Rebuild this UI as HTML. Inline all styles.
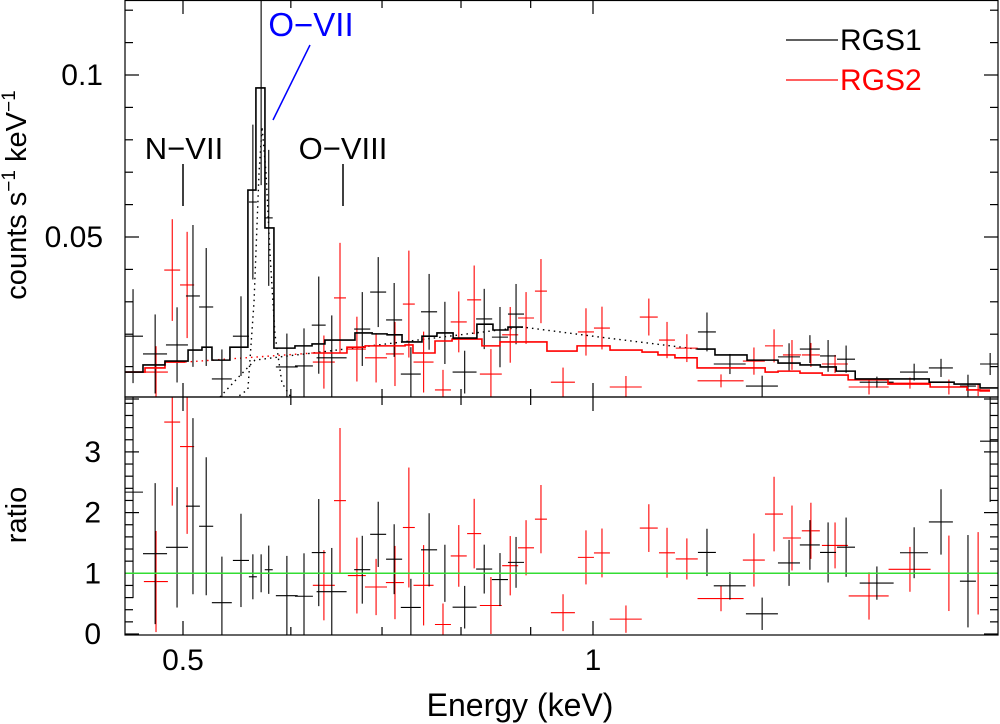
<!DOCTYPE html>
<html><head><meta charset="utf-8">
<style>
html,body{margin:0;padding:0;background:#fff;}
svg{display:block;font-family:"Liberation Sans",sans-serif;}
</style></head>
<body>
<svg id="chart" width="1000" height="724" viewBox="0 0 1000 724" xmlns="http://www.w3.org/2000/svg">
<defs>
<clipPath id="clipTop"><rect x="125" y="0" width="873" height="397"/></clipPath>
<clipPath id="clipBot"><rect x="125" y="397" width="873" height="238"/></clipPath>
</defs>
<g id="axes"></g>
<g id="topMarks" clip-path="url(#clipTop)"></g>
<g id="botMarks" clip-path="url(#clipBot)"></g>
<rect x="125" y="0.5" width="873" height="396.5" fill="none" stroke="#000" stroke-width="1.2"/>
<rect x="125" y="397" width="873" height="238" fill="none" stroke="#000" stroke-width="1.2"/>
<text x="26" y="195" font-size="29" text-anchor="middle" transform="rotate(-90 26 195)">counts s<tspan font-size="19" dy="-11">−1</tspan><tspan dy="11"> keV</tspan><tspan font-size="19" dy="-11">−1</tspan></text>
<text x="26" y="515" font-size="29" text-anchor="middle" transform="rotate(-90 26 515)">ratio</text>
<text x="520" y="716" font-size="32" text-anchor="middle">Energy (keV)</text>
<text x="184" y="159" font-size="31" text-anchor="middle">N−VII</text>
<line x1="183" y1="164" x2="183" y2="206" stroke="#000" stroke-width="1.5"/>
<text x="343" y="159" font-size="31" text-anchor="middle">O−VIII</text>
<line x1="343" y1="164" x2="343" y2="206" stroke="#000" stroke-width="1.5"/>
<text x="311" y="36" font-size="33" fill="#0000ff" text-anchor="middle">O−VII</text>
<line x1="310" y1="45" x2="273" y2="120" stroke="#0000ff" stroke-width="1.5"/>
<g>
<line x1="786" y1="40" x2="838" y2="40" stroke="#000" stroke-width="1.2"/>
<text x="840" y="50" font-size="30">RGS1</text>
<line x1="786" y1="80" x2="838" y2="80" stroke="#f00" stroke-width="1.2"/>
<text x="840" y="90" font-size="30" fill="#f00">RGS2</text>
</g>
</svg>
<script>
// RGS1 data (energy keV, half-width keV, counts 1e-3 s^-1 keV^-1, error)
var r1E=[0.4595,0.477,0.495,0.5085,0.520,0.534,0.5515,0.5627,0.5706,0.578,0.596,0.6135,0.629,0.643,0.677,0.6955,0.7145,0.735,0.758,0.7785,0.805,0.832,0.8545,0.878,1.2125,1.2605,1.331,1.393,1.443,1.488,1.534,1.616,1.721,1.801,1.885,1.957];
var r1W=[0.0078,0.0097,0.0092,0.006,0.0062,0.009,0.0075,0.0038,0.0039,0.0039,0.011,0.0093,0.0074,0.0163,0.0092,0.0094,0.0097,0.0124,0.0103,0.0105,0.0163,0.0113,0.0116,0.0119,0.0184,0.034,0.036,0.0259,0.0244,0.0201,0.0233,0.0464,0.0407,0.0365,0.0255,0.0331];
var r1V=[19.4,13.9,16.7,31.8,28.4,6.2,19.4,60.8,96.0,55.9,9.9,10.2,22.8,12.7,21.6,33.0,24.4,7.7,26.9,20.4,8.3,24.7,19.1,26.2,20.7,10.8,4.0,13.0,15.4,13.3,12.3,5.2,8.3,9.6,4.0,10.8];
var r1Err=[14.5,12.2,11.6,21.9,18.2,9.1,12.3,23.9,30,21,10.3,11.6,15,13.1,11.4,10.8,11.4,8.3,11.7,9.6,6.6,9.3,9.3,9.3,6.0,3.1,3.2,4.2,4.3,4.9,4.2,1.7,2.6,2.8,3.5,3.4];
// RGS2 data
var r2E=[0.4777,0.491,0.5035,0.6345,0.652,0.6709,0.693,0.7155,0.7325,0.751,0.776,0.797,0.818,0.8415,0.8694,0.893,0.9158,0.9506,0.9882,1.0153,1.0573,1.099,1.1333,1.172,1.2416,1.3127,1.3581,1.3999,1.4454,1.5056,1.5946,1.7089,1.8252,1.9176];
var r2W=[0.0097,0.0066,0.006,0.0118,0.0066,0.0102,0.0129,0.0109,0.0074,0.0127,0.0105,0.0108,0.0097,0.0156,0.0118,0.0121,0.0093,0.0193,0.0134,0.0137,0.0286,0.0167,0.0153,0.0218,0.0483,0.0244,0.0207,0.0213,0.022,0.0331,0.0539,0.0607,0.0555,0.0389];
var r2V=[8.3,39.8,35.2,11.4,31.2,15.4,12.7,13.9,29.3,11.4,2.8,23.8,30.6,7.7,19.8,25,33.3,5.2,20.7,21.9,3.7,25.3,18.2,15.7,5.6,11.7,16.4,13.6,13.6,10.8,3.7,4.9,3.7,2.8];
var r2Err=[8,15.7,16.4,8.2,17,10,7.6,9.9,16.5,9.4,6.2,9.4,10.6,7.7,8.6,8,9.9,4.5,7.3,6.6,3.4,5.7,5.6,4.3,2.0,4.2,5.1,4.6,3.7,2.8,2.3,1.7,2.3,1.9];
// RGS1 model histogram (bin edges keV, values)
var m1Edges=[0.4517,0.4673,0.4850,0.5043,0.5163,0.5251,0.5413,0.5580,0.5656,0.5743,0.5831,0.6042,0.6219,0.6356,0.6687,0.6884,0.7060,0.7241,0.7489,0.7681,0.7894,0.8218,0.8444,0.8661,0.8884,1.1924,1.2290,1.2974,1.3673,1.4190,1.4685,1.5086,1.5578,1.6466,1.7653,1.8413,1.9238,1.9836];
var m1Vals=[8.3,10.5,11.7,15.1,16.0,12.0,16.0,64.5,96.0,52.8,15.7,16.4,17.0,18.2,20.4,20.1,19.8,17.6,19.4,20.4,18.8,23.1,21.3,22.2,null,15.4,13.6,12.0,11.1,10.5,9.9,8.6,6.2,6.2,5.2,4.6,3.4];
// RGS2 model histogram
var m2Edges=[0.4517,0.4689,0.4850,0.5018,0.6229,0.6597,0.6803,0.7278,0.7376,0.7656,0.7880,0.8288,0.8545,0.9251,0.9734,1.0292,1.0864,1.1161,1.1486,1.1924,1.3378,1.3673,1.4190,1.4733,1.5393,1.6466,1.7682,1.8823,1.9238,1.9566];
var m2Vals=[8.3,9.6,11.4,null,14.2,16.0,16.4,16.7,14.2,17.9,18.5,16.4,17.6,14.8,16.4,15.1,14.5,13.6,12.7,9.6,8.3,8.6,8.0,7.4,5.9,4.6,3.7,2.8,2.5];
// model components (dotted)
var contE=[0.5322,0.551,0.5647,0.589,0.623,0.888,1.012,1.192];
var contV=[0.6,7.4,12.0,13.0,14.2,22.2,19.1,15.4];
var redContE=[0.5018,0.6229];
var redContV=[11.4,14.2];
var lineE=[0.5459,0.558,0.5638,0.5686,0.5715,0.5753,0.5792,0.5841,0.5910,0.6012];
var lineV=[0,3,30,70,84,70,45,20,5,0];
// axis ticks
var yTicks=[0.05,0.1];
var ratioTicks=[0,1,2,3];
var xLabelTicks=[0.5,1];
var xMinorTicks=[0.5,0.6,0.7,0.8,0.9,1,2];

var NS="http://www.w3.org/2000/svg";
function X(e){return 593+1362*Math.log10(e);}
function Y(v){return 399-3.24*v;}
function R(r){return 634-60.7*r;}
function mk(tag,attrs,parent){var el=document.createElementNS(NS,tag);for(var k in attrs)el.setAttribute(k,attrs[k]);parent.appendChild(el);return el;}
var axes=document.getElementById('axes'),top_=document.getElementById('topMarks'),bot=document.getElementById('botMarks');

xMinorTicks.forEach(function(e){
  var x=X(e),big=(e===0.5||e===1);
  [[0,big?14:8],[397,big?-14:-8],[397,big?14:8],[635,big?-14:-8]].forEach(function(p){
    var t=mk('line',{x1:x,x2:x,y1:p[0],y2:p[0]+p[1],stroke:'#000','stroke-width':1.2},axes);
    
    
  });
});
xLabelTicks.forEach(function(e){
  var t=mk('text',{x:X(e),y:670,'font-size':30,'text-anchor':'middle'},axes);t.textContent=String(e);
  
  
});
for(var v=0;v<=120;v+=10){
  var big=(v%50===0);
  [[125,big?14:8],[998,big?-14:-8]].forEach(function(p){
    var t=mk('line',{x1:p[0],x2:p[0]+p[1],y1:Y(v),y2:Y(v),stroke:'#000','stroke-width':1.2},axes);
    
    
  });
}
yTicks.forEach(function(v){
  var t=mk('text',{x:103,y:Y(v*1000)+10,'font-size':30,'text-anchor':'end'},axes);t.textContent=String(v);
  
  
});
for(var i=0;i<=19;i++){
  var r=i*0.2,big=(i%5===0);
  [[125,big?14:8],[998,big?-14:-8]].forEach(function(p){
    var t=mk('line',{x1:p[0],x2:p[0]+p[1],y1:R(r),y2:R(r),stroke:'#000','stroke-width':1.2},axes);
    
    
  });
}
ratioTicks.forEach(function(r){
  var t=mk('text',{x:101,y:R(r)+10,'font-size':30,'text-anchor':'end'},axes);t.textContent=String(r);
  
  
});

function stepPath(edges,vals){
  var d='',pen=false;
  for(var i=0;i<vals.length;i++){
    if(vals[i]===null){pen=false;continue;}
    var x0=X(edges[i]),x1=X(edges[i+1]),y=Y(vals[i]);
    d+=(pen?'L':'M')+x0+' '+y+'L'+x1+' '+y;pen=true;
  }
  return d;
}
function linePath(es,vs){return es.map(function(e,i){return (i?'L':'M')+X(e)+' '+Y(vs[i]);}).join('');}
function modelAt(edges,vals,e){
  var idx=-1;
  for(var i=0;i<vals.length;i++){if(e>=edges[i]&&e<edges[i+1]){idx=i;break;}}
  if(idx<0)idx=e<edges[0]?0:vals.length-1;
  if(vals[idx]!==null)return vals[idx];
  for(var k=1;k<vals.length;k++){
    if(idx-k>=0&&vals[idx-k]!==null)return vals[idx-k];
    if(idx+k<vals.length&&vals[idx+k]!==null)return vals[idx+k];
  }
  return 1;
}

var p=mk('path',{d:linePath(redContE,redContV),fill:'none',stroke:'#f00','stroke-width':1.4,'stroke-dasharray':'1.5 4'},top_);


p=mk('path',{d:linePath(contE,contV),fill:'none',stroke:'#000','stroke-width':1.4,'stroke-dasharray':'1.5 4'},top_);


p=mk('path',{d:linePath(lineE,lineV),fill:'none',stroke:'#000','stroke-width':1.4,'stroke-dasharray':'1.5 4'},top_);



function drawData(E,W,V,Er,col,name,edges,vals){
  for(var i=0;i<E.length;i++){
    var x=X(E[i]),xl=X(E[i]-W[i]),xr=X(E[i]+W[i]);
    var g=mk('g',{stroke:col,'stroke-width':1.1},top_);
    
    
    mk('line',{x1:xl,x2:xr,y1:Y(V[i]),y2:Y(V[i])},g);
    mk('line',{x1:x,x2:x,y1:Y(V[i]-Er[i]),y2:Y(V[i]+Er[i])},g);
    var m=modelAt(edges,vals,E[i]);
    var rg=mk('g',{stroke:col,'stroke-width':1.1},bot);
    
    
    mk('line',{x1:xl,x2:xr,y1:R(V[i]/m),y2:R(V[i]/m)},rg);
    mk('line',{x1:x,x2:x,y1:R((V[i]-Er[i])/m),y2:R((V[i]+Er[i])/m)},rg);
  }
}
drawData(r2E,r2W,r2V,r2Err,'#f00','rgs2',m2Edges,m2Vals);
drawData(r1E,r1W,r1V,r1Err,'#000','rgs1',m1Edges,m1Vals);

p=mk('path',{d:stepPath(m2Edges,m2Vals),fill:'none',stroke:'#f00','stroke-width':1.6},top_);


p=mk('path',{d:stepPath(m1Edges,m1Vals),fill:'none',stroke:'#000','stroke-width':1.6},top_);



var gl=mk('line',{x1:125,x2:998,y1:R(1),y2:R(1),stroke:'#33dd33','stroke-width':1.5},bot);


</script>
</body></html>
